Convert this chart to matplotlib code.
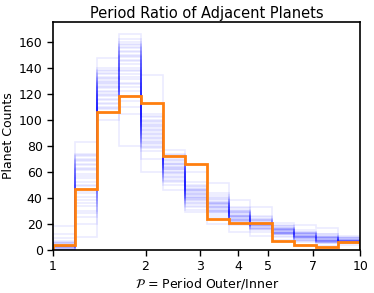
import matplotlib
matplotlib.use('Agg')
import matplotlib.pyplot as plt
import numpy as np

# log-spaced bins between period ratio 1 and 10
edges = np.logspace(0, 1, 15)

# observed counts (orange)
observed = [4, 47, 106, 118, 113, 72, 66, 24, 21, 21, 7, 4, 2, 6]

# simulated counts, one list per bin (each position = one simulation)
b1 = [2, 0, 4, 1, 3, 5, 2, 6, 1, 3, 0, 4, 2, 9, 3, 1, 5, 2, 18, 3, 4, 1, 7, 2, 3, 0, 5, 2, 12, 3]
b2 = [45, 62, 30, 70, 55, 38, 66, 25, 72, 50, 41, 83, 58, 34, 68, 47, 20, 61, 74, 52, 36, 65, 10, 57, 44, 69, 28, 63, 49, 73]
b3 = [120, 132, 110, 138, 125, 115, 128, 147, 108, 135, 118, 130, 112, 140, 122, 127, 105, 133, 116, 137, 124, 100, 129, 113, 136, 119, 131, 109, 126, 121]
b4 = [140, 155, 125, 160, 118, 148, 131, 166, 152, 110, 145, 158, 128, 137, 150, 80, 162, 122, 143, 156, 133, 104, 149, 138, 153, 127, 146, 114, 157, 135]
b5 = [90, 82, 100, 78, 95, 85, 104, 60, 92, 88, 80, 98, 84, 134, 93, 76, 102, 87, 96, 83, 91, 70, 99, 86, 94, 79, 103, 89, 81, 97]
b6 = [62, 58, 70, 52, 66, 60, 74, 55, 64, 68, 46, 71, 57, 63, 77, 61, 54, 69, 59, 65, 72, 56, 67, 50, 62, 73, 60, 66, 53, 64]
b7 = [42, 38, 48, 33, 45, 40, 50, 29, 44, 36, 47, 41, 60, 39, 46, 35, 43, 49, 37, 42, 31, 45, 52, 40, 44, 38, 47, 34, 41, 46]
b8 = [32, 36, 28, 40, 34, 30, 38, 25, 35, 42, 31, 37, 29, 33, 51, 36, 27, 39, 32, 35, 44, 30, 34, 20, 37, 33, 41, 29, 35, 31]
b9 = [26, 22, 30, 24, 28, 20, 25, 32, 23, 27, 19, 29, 25, 38, 22, 26, 31, 24, 21, 28, 14, 27, 23, 29, 25, 33, 22, 26, 24, 30]
b10 = [20, 18, 23, 16, 21, 19, 25, 14, 22, 17, 20, 24, 18, 33, 21, 15, 19, 23, 17, 22, 11, 20, 26, 18, 21, 16, 19, 24, 20, 17]
b11 = [14, 16, 12, 18, 15, 13, 17, 10, 14, 19, 12, 15, 16, 21, 13, 11, 15, 17, 14, 12, 8, 16, 13, 18, 15, 14, 12, 17, 13, 15]
b12 = [11, 9, 13, 8, 12, 10, 14, 7, 11, 15, 9, 12, 10, 19, 8, 11, 13, 6, 12, 10, 4, 11, 9, 14, 10, 12, 8, 13, 11, 9]
b13 = [9, 7, 10, 6, 8, 11, 7, 5, 9, 12, 6, 8, 10, 17, 7, 9, 5, 11, 8, 6, 3, 9, 7, 10, 8, 12, 6, 9, 7, 8]
b14 = [7, 8, 6, 9, 7, 5, 8, 10, 6, 7, 9, 6, 8, 11, 7, 5, 8, 6, 7, 9, 4, 7, 8, 6, 9, 7, 5, 8, 7, 6]

xticks = [1, 2, 3, 4, 5, 7, 10]

sims = np.array([b1, b2, b3, b4, b5, b6, b7, b8, b9, b10, b11, b12, b13, b14]).T

fig = plt.figure(figsize=(3.74, 2.93), dpi=100)
ax = fig.add_axes([0.142, 0.147, 0.821, 0.778])

for counts in sims:
    ax.stairs(counts, edges, color='blue', alpha=0.08, linewidth=1.2)
ax.stairs(observed, edges, color='#ff7f0e', linewidth=2)

ax.set_xscale('log')
ax.set_xlim(1, 10)
ax.set_ylim(0, 175)
ax.set_xticks(xticks)
ax.set_xticklabels([str(t) for t in xticks])
ax.xaxis.set_minor_locator(matplotlib.ticker.NullLocator())
ax.set_yticks(range(0, 161, 20))
ax.tick_params(labelsize=9, length=4, width=1)
for s in ax.spines.values():
    s.set_linewidth(1.2)

ax.set_title('Period Ratio of Adjacent Planets', fontsize=10.5, pad=3)
ax.set_xlabel(r'$\mathcal{P}$ = Period Outer/Inner', fontsize=9, labelpad=2)
ax.set_ylabel('Planet Counts', fontsize=9, labelpad=3)

fig.savefig('out.png', dpi=100)
